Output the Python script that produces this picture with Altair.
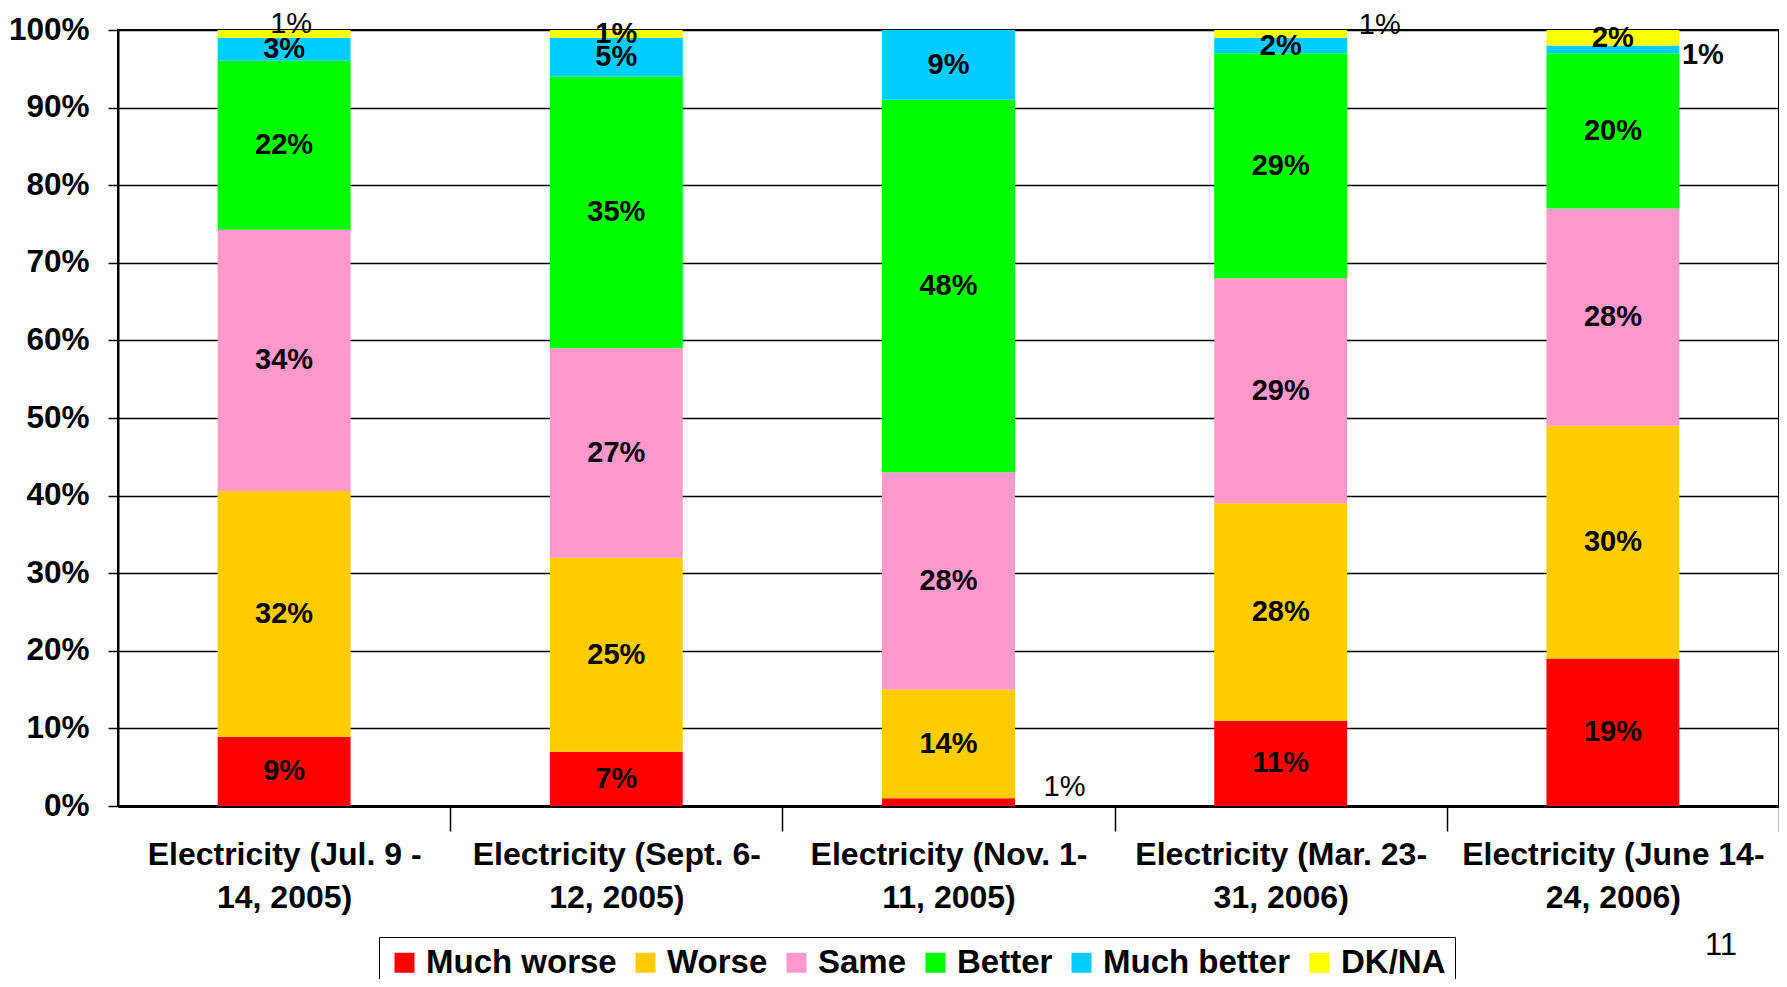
import altair as alt
import pandas as pd

# ---- data ----
period_line1 = ["Electricity (Jul. 9 -", "Electricity (Sept. 6-", "Electricity (Nov. 1-",
                "Electricity (Mar. 23-", "Electricity (June 14-"]
period_line2 = ["14, 2005)", "12, 2005)", "11, 2005)", "31, 2006)", "24, 2006)"]
categories = ["Much worse", "Worse", "Same", "Better", "Much better", "DK/NA"]
colors = ["#FF0000", "#FFCC00", "#FF99CC", "#00FF00", "#00CCFF", "#FFFF00"]

much_worse = [9, 7, 1, 11, 19]
worse = [32, 25, 14, 28, 30]
same = [34, 27, 28, 29, 28]
better = [22, 35, 48, 29, 20]
much_better = [3, 5, 9, 2, 1]
dk_na = [1, 1, 0, 1, 2]

series = [much_worse, worse, same, better, much_better, dk_na]
periods = [a + "\n" + b for a, b in zip(period_line1, period_line2)]

rows = []
for ci, (cat, vals) in enumerate(zip(categories, series)):
    for pi, v in enumerate(vals):
        rows.append({"period": periods[pi], "pidx": pi, "cat": cat, "idx": ci, "value": v})
df = pd.DataFrame(rows)

FONT = "Liberation Sans"
W, H = 1661, 776
STEP = W / 5

base = alt.Chart(df).transform_joinaggregate(
    total="sum(value)", groupby=["period"]
).transform_calculate(
    frac="datum.value / datum.total"
).transform_stack(
    stack="frac", groupby=["period"], as_=["y0", "y1"],
    sort=[alt.SortField("idx", order="ascending")]
).transform_calculate(
    mid="(datum.y0 + datum.y1) / 2",
    label="datum.value + '%'"
)

x_enc = alt.X(
    "period:N", sort=periods,
    scale=alt.Scale(paddingInner=0.6, paddingOuter=0.3),
    axis=alt.Axis(
        title=None, labelAngle=0, labelFont=FONT, labelFontSize=32,
        labelFontWeight="bold", labelColor="black", labelLineHeight=43,
        labelExpr="split(datum.label, '\\n')",
        tickOffset=STEP / 2, labelOffset=-STEP / 2,
        tickSize=25, tickColor="black", tickWidth=1.5,
        domainColor="black", domainWidth=3, labelPadding=8,
        labelBaseline="top", labelLimit=500, grid=False,
    ),
)

y_scale = alt.Scale(domain=[0, 1])

bars = base.mark_bar().encode(
    x=x_enc,
    y=alt.Y(
        "y0:Q", scale=y_scale,
        axis=alt.Axis(
            title=None, values=[i / 10 for i in range(11)], format=".0%",
            labelFont=FONT, labelFontSize=31.5, labelFontWeight="bold",
            labelColor="black", labelPadding=19, tickSize=10,
            tickColor="black", tickWidth=1.5, domainColor="black",
            domainWidth=2, grid=True, gridColor="black", gridWidth=1.5,
            gridOpacity=1,
        ),
    ),
    y2="y1:Q",
    color=alt.Color(
        "cat:N", scale=alt.Scale(domain=categories, range=colors),
        legend=alt.Legend(
            title=None, orient="none", legendX=261, legendY=907,
            direction="horizontal", columns=6, symbolType="square",
            symbolSize=400, symbolStrokeWidth=0, labelFont=FONT,
            labelFontSize=33, labelFontWeight="bold", labelColor="black",
            columnPadding=12, labelOffset=5, padding=9,
            strokeColor="black", labelLimit=400,
        ),
    ),
)

# labels moved off their segments in the reference: (period index, category, dx, dy, bold)
moved = [
    (0, "DK/NA", 7, -10, False),
    (2, "Much worse", 116, -15, False),
    (3, "DK/NA", 99, -9, False),
    (4, "Much better", 90, 6, True),
]
moved_filter = " || ".join(
    f"(datum.pidx == {p} && datum.cat == '{c}')" for p, c, *_ in moved
)

labels = base.transform_filter(
    f"datum.value > 0 && !({moved_filter})"
).mark_text(
    font=FONT, fontSize=29, fontWeight="bold", color="black", baseline="middle"
).encode(
    x=alt.X("period:N", sort=periods),
    y=alt.Y("mid:Q", scale=y_scale),
    text="label:N",
)

layers = [bars, labels]
for p, c, dx, dy, bold in moved:
    layers.append(
        base.transform_filter(f"datum.pidx == {p} && datum.cat == '{c}'").mark_text(
            font=FONT, fontSize=29, fontWeight="bold" if bold else "normal",
            color="black", baseline="middle", dx=dx, dy=dy,
        ).encode(
            x=alt.X("period:N", sort=periods),
            y=alt.Y("mid:Q", scale=y_scale),
            text="label:N",
        )
    )

page_no = alt.Chart(pd.DataFrame({"t": ["11"]})).mark_text(
    font=FONT, fontSize=31, color="black", baseline="middle"
).encode(x=alt.value(1603), y=alt.value(916), text="t:N")
layers.append(page_no)

chart = alt.layer(*layers).properties(
    width=W, height=H,
    autosize=alt.AutoSizeParams(type="none"),
    padding={"left": 110, "top": 22, "right": 0, "bottom": 173},
).configure_view(stroke="black", strokeWidth=2)

chart.save("out.html", embed_options={"renderer": "svg", "actions": False})
